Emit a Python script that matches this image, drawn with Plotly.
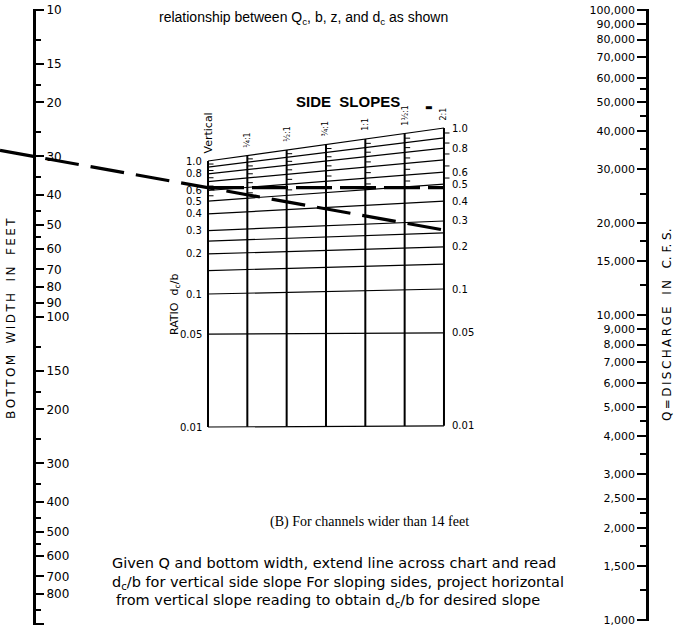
import math
import plotly.graph_objects as go

# ---------------- data ----------------
bottom_width_ticks = [10, 15, 20, 30, 40, 50, 60, 70, 80, 90, 100, 150, 200, 300, 400, 500, 600, 700, 800, 1000]
bottom_width_labels = ["10", "15", "20", "30", "40", "50", "60", "70", "80", "90", "100",
                       "150", "200", "300", "400", "500", "600", "700", "800", ""]
bottom_width_minor = [12.5, 17.5, 25, 35, 45, 55, 125, 175, 250, 350, 450, 550, 900]

discharge_ticks = [100000, 90000, 80000, 70000, 60000, 50000, 40000, 30000, 20000, 15000,
                   10000, 9000, 8000, 7000, 6000, 5000, 4000, 3000, 2500, 2000, 1500, 1000]
discharge_labels = ["100,000", "90,000", "80,000", "70,000", "60,000", "50,000", "40,000", "30,000",
                    "20,000", "15,000", "10,000", "9,000", "8,000", "7,000", "6,000", "5,000",
                    "4,000", "3,000", "2,500", "2,000", "1,500", "1,000"]
discharge_minor = [55000, 45000, 35000, 25000, 17500, 12500, 4500, 3500, 2250, 1750, 1250]

side_slopes = ["Vertical", "¼:1", "½:1", "¾:1", "1:1", "1½:1", "2:1"]

# constant dc/b lines: value on the vertical-slope column and the height they reach
# at the 2:1 column, expressed on the vertical-slope scale
ratio_lines = [1.0, 0.9, 0.8, 0.7, 0.6, 0.5, 0.4, 0.3, 0.25, 0.2, 0.15, 0.1, 0.05, 0.01]
ratio_at_2to1 = [1.77, 1.49, 1.25, 1.02, 0.826, 0.671, 0.50, 0.354, 0.288, 0.226, 0.168, 0.109, 0.051, 0.0102]
ratio_labels = [1.0, 0.8, 0.6, 0.5, 0.4, 0.3, 0.2, 0.1, 0.05, 0.01]

example_bottom_width = 30
example_ratio_vertical = 0.63

# ---------------- layout geometry ----------------
W, H = 677, 626
COL0, STEP = 208.0, 39.33          # pixel x of vertical column, spacing of columns
X_RANGE = [-COL0 / STEP, (W - COL0) / STEP]
Y_REF, DEC = 294.0, 133.0          # pixel of dc/b = 0.1, pixels per decade
C_RANGE = [-1 - (H - Y_REF) / DEC, -1 + Y_REF / DEC]

LEFT_POS = 34 / W
RIGHT_POS = 647 / W
EPS = 0.003
LEFT_DOM = [1 - (624 + EPS * 307) / H, 1 - (10 - EPS * 307) / H]
LEFT_RANGE = [3 + EPS, 1 - EPS]
RIGHT_DOM = [1 - (620 + EPS * 305) / H, 1 - (10 - EPS * 305) / H]
RIGHT_RANGE = [3 - EPS, 5 + EPS]

FONT = "DejaVu Sans"
ncol = len(side_slopes) - 1

fig = go.Figure()

# constant ratio lines
lx, ly = [], []
for v, w in zip(ratio_lines, ratio_at_2to1):
    lx += [0, ncol, None]
    ly += [v, w, None]
fig.add_trace(go.Scatter(x=lx, y=ly, mode="lines", line=dict(color="black", width=1.2),
                         hoverinfo="skip", showlegend=False))


def along(v, w, i):
    return 10 ** (math.log10(v) + (math.log10(w) - math.log10(v)) * i / ncol)


# slope columns
cx, cy = [], []
tops = []
for i in range(len(side_slopes)):
    top = along(ratio_lines[0], ratio_at_2to1[0], i)
    bot = along(ratio_lines[-1], ratio_at_2to1[-1], i)
    tops.append(top)
    cx += [i, i, None]
    cy += [bot, top, None]
fig.add_trace(go.Scatter(x=cx, y=cy, mode="lines", line=dict(color="black", width=2),
                         hoverinfo="skip", showlegend=False))

# small graduation ticks on each column between the upper constant-ratio lines
tx, ty = [], []
for k in range(5):
    for i in range(len(side_slopes)):
        a = along(ratio_lines[k], ratio_at_2to1[k], i)
        b = along(ratio_lines[k + 1], ratio_at_2to1[k + 1], i)
        m = math.sqrt(a * b)
        tx += [i, i + 0.14, None]
        ty += [m, m, None]
fig.add_trace(go.Scatter(x=tx, y=ty, mode="lines", line=dict(color="black", width=1),
                         hoverinfo="skip", showlegend=False))

# example line: from bottom width on left scale through vertical dc/b reading
fb = LEFT_DOM[0] + (LEFT_DOM[1] - LEFT_DOM[0]) * (math.log10(example_bottom_width) - LEFT_RANGE[0]) / (LEFT_RANGE[1] - LEFT_RANGE[0])
cy_b = C_RANGE[0] + (C_RANGE[1] - C_RANGE[0]) * fb
x_b = X_RANGE[0] + (X_RANGE[1] - X_RANGE[0]) * LEFT_POS
ly0 = math.log10(example_ratio_vertical)
slope = (ly0 - cy_b) / (0 - x_b)
ex = [X_RANGE[0], ncol]
ey = [10 ** (ly0 + slope * xx) for xx in ex]
fig.add_trace(go.Scatter(x=ex, y=ey, mode="lines", line=dict(color="black", width=3.2, dash="34px,12px"),
                         hoverinfo="skip", showlegend=False))
fig.add_trace(go.Scatter(x=[0, ncol], y=[example_ratio_vertical, example_ratio_vertical], mode="lines",
                         line=dict(color="black", width=3.2, dash="36px,8px"),
                         hoverinfo="skip", showlegend=False))

# invisible traces carrying the side scales
fig.add_trace(go.Scatter(x=[X_RANGE[0]], y=[example_bottom_width], yaxis="y2", mode="markers",
                         marker=dict(opacity=0), hoverinfo="skip", showlegend=False))
fig.add_trace(go.Scatter(x=[X_RANGE[0]], y=[10000], yaxis="y3", mode="markers",
                         marker=dict(opacity=0), hoverinfo="skip", showlegend=False))

ann = []
# ratio labels left / right
for v in ratio_labels:
    k = ratio_lines.index(v)
    t = "1.0" if v == 1.0 else f"{v:g}"
    ann.append(dict(x=0, y=math.log10(ratio_lines[k]), xref="x", yref="y", text=t, showarrow=False,
                    xanchor="right", yanchor="middle", xshift=-4, font=dict(family=FONT, size=10, color="black")))
    ann.append(dict(x=ncol, y=math.log10(ratio_at_2to1[k]), xref="x", yref="y", text=t, showarrow=False,
                    xanchor="left", yanchor="middle", xshift=6, font=dict(family=FONT, size=10, color="black")))
# slope labels
for i, s in enumerate(side_slopes):
    ann.append(dict(x=i, y=math.log10(tops[i]), xref="x", yref="y", text=s, showarrow=False, textangle=-90,
                    xanchor="center", yanchor="bottom", yshift=5 if i == 0 else 6,
                    font=dict(family=FONT, size=11 if i == 0 else 8, color="black")))


def txt(x, y, t, size=12, family=FONT, angle=0):
    ann.append(dict(x=x / W, y=1 - y / H, xref="paper", yref="paper", text=t, showarrow=False,
                    xanchor="center", yanchor="middle",
                    textangle=angle, font=dict(family=family, size=size, color="black")))


TS = "\u2009"
def spaced(s):
    return TS.join(s)


txt(303, 18, "relationship between Q<sub>c</sub>, b, z, and d<sub>c</sub> as shown", size=14, family="Liberation Sans")
txt(348, 101, "<b>SIDE  SLOPES</b>", size=15, family="Liberation Sans")
txt(429, 107, "<b>▬</b>", size=8, family=FONT)
txt(175, 305, "RATIO  d<sub>c</sub>/b", size=11, family=FONT, angle=-90)
txt(369, 522, "(B) For channels wider than 14 feet", size=14, family="Liberation Serif")
txt(334, 563, "Given Q and bottom width, extend line across chart and read", size=14.5, family=FONT)
txt(338, 583, "d<sub>c</sub>/b for vertical side slope For sloping sides, project horizontal", size=14.5, family=FONT)
txt(328, 601, "from vertical slope reading to obtain d<sub>c</sub>/b for desired slope", size=14.5, family=FONT)
txt(11, 319, spaced("BOTTOM") + "   " + spaced("WIDTH") + "   " + spaced("IN") + "   " + spaced("FEET"),
    size=12, family=FONT, angle=-90)
txt(667, 325, spaced("Q=DISCHARGE") + "   " + spaced("IN") + "   C. F. S.", size=12, family=FONT, angle=-90)

fig.update_layout(
    width=W, height=H, margin=dict(l=0, r=0, t=0, b=0),
    paper_bgcolor="white", plot_bgcolor="rgba(0,0,0,0)",
    showlegend=False,
    xaxis=dict(range=X_RANGE, domain=[0, 1], visible=False, fixedrange=True),
    yaxis=dict(type="log", range=C_RANGE, domain=[0, 1], visible=False, fixedrange=True),
    yaxis2=dict(type="log", range=LEFT_RANGE, domain=LEFT_DOM, anchor="free", position=LEFT_POS,
                side="right", showgrid=False, zeroline=False, showline=True, linecolor="black", linewidth=3,
                ticks="outside", ticklen=8, tickwidth=2, tickcolor="black",
                tickmode="array", tickvals=bottom_width_ticks, ticktext=bottom_width_labels,
                tickfont=dict(family=FONT, size=12, color="black"), automargin=False,
                ticklabeloverflow="allow",
                minor=dict(tickmode="array", tickvals=bottom_width_minor, ticks="outside", ticklen=5,
                           tickwidth=1.5, tickcolor="black", showgrid=False),
                fixedrange=True),
    yaxis3=dict(type="log", range=RIGHT_RANGE, domain=RIGHT_DOM, anchor="free", position=RIGHT_POS,
                side="left", showgrid=False, zeroline=False, showline=True, linecolor="black", linewidth=2.5,
                ticks="outside", ticklen=9, tickwidth=2, tickcolor="black",
                tickmode="array", tickvals=discharge_ticks, ticktext=discharge_labels,
                tickfont=dict(family=FONT, size=11, color="black"), automargin=False,
                ticklabeloverflow="allow",
                minor=dict(tickmode="array", tickvals=discharge_minor, ticks="outside", ticklen=6,
                           tickwidth=1.5, tickcolor="black", showgrid=False),
                fixedrange=True),
    annotations=ann,
)

fig.write_html("out.html", config={"displayModeBar": False},
               post_script="document.body.style.margin='0';document.body.style.overflow='hidden';")
